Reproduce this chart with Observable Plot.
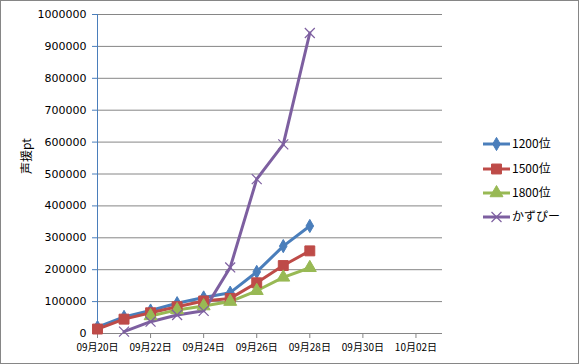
<!DOCTYPE html>
<html>
<head>
<meta charset="utf-8">
<script src="https://cdn.jsdelivr.net/npm/d3@7"></script>
<script src="https://cdn.jsdelivr.net/npm/@observablehq/plot@0.6"></script>
<style>
  html, body { margin: 0; padding: 0; background: #fff; }
  #wrap { position: relative; width: 579px; height: 364px; overflow: hidden; background: #fff; }
  #wrap svg.plot { position: absolute; left: 0; top: 0; }
  #border { position: absolute; left: 0; top: 0; width: 579px; height: 364px; box-sizing: border-box; border: 1px solid #868686; pointer-events: none; }
  #legend { position: absolute; left: 0; top: 0; }
</style>
</head>
<body>
<div id="wrap"></div>
<script>
// ---- data ----
const dates = ["2013-09-20","2013-09-21","2013-09-22","2013-09-23","2013-09-24","2013-09-25","2013-09-26","2013-09-27","2013-09-28"];
const series = ["1200位", "1500位", "1800位", "かずぴー"];
const s1200 = [20000, 52000, 72000, 95000, 113000, 128000, 193000, 274000, 337000];
const s1500 = [14000, 45000, 65000, 84000, 102000, 110000, 159000, 213000, 259000];
const s1800 = [null, null, 55000, 74000, 86000, 100000, 134000, 176000, 206000];
const sKazu = [null, 6000, 37000, 58000, 71000, 207000, 484000, 593000, 942000];
const tickDates = ["2013-09-20","2013-09-22","2013-09-24","2013-09-26","2013-09-28","2013-09-30","2013-10-02"];
const yTicks = [0,100000,200000,300000,400000,500000,600000,700000,800000,900000,1000000];
const xDomain = ["2013-09-20","2013-10-03"];
const yLabel = "声援pt";

// ---- styles ----
const colors = ["#4A7EBB", "#BE4B48", "#98B954", "#7D5FA0"];
const symbols = ["diamond", "square", "triangle", "times"];
const symSize = [4.0, 5.6, 4.8, 4.6];

const parse = d3.utcParse("%Y-%m-%d");
const allVals = [s1200, s1500, s1800, sKazu];
const rows = [];
series.forEach((s, i) => {
  allVals[i].forEach((v, j) => {
    if (v != null) rows.push({series: s, date: parse(dates[j]), value: v, idx: i});
  });
});
const fmt = d => `${String(d.getUTCMonth() + 1).padStart(2, "0")}月${String(d.getUTCDate()).padStart(2, "0")}日`;

const marks = [
  Plot.gridY(yTicks, {stroke: "#868686", strokeOpacity: 1, strokeWidth: 1}),
  Plot.axisY(yTicks, {tickSize: 5, tickPadding: 6, stroke: "#4A7EBB", label: null, tickFormat: d => String(d), fontFamily: "DejaVu Sans", fontSize: 11, fill: "#000"}),
  Plot.axisX(tickDates.map(parse), {tickSize: 5, tickPadding: 5, stroke: "#868686", label: null, tickFormat: fmt, fontFamily: "Noto Sans CJK JP", fontSize: 10, fill: "#000"}),
  Plot.ruleY([0], {stroke: "#868686", strokeWidth: 1}),
  Plot.ruleX([parse(xDomain[0])], {stroke: "#4A7EBB", strokeWidth: 1}),
  Plot.text([yLabel], {frameAnchor: "left", dx: -70, rotate: -90, fontFamily: "Noto Sans CJK JP", fontSize: 12, fill: "#000"})
];
series.forEach((s, i) => {
  const d = rows.filter(r => r.idx === i);
  marks.push(Plot.line(d, {x: "date", y: "value", stroke: colors[i], strokeWidth: 3, curve: "linear"}));
});
series.forEach((s, i) => {
  const d = rows.filter(r => r.idx === i);
  if (symbols[i] === "times") {
    marks.push(Plot.dot(d, {x: "date", y: "value", symbol: "times", r: symSize[i], stroke: colors[i], strokeWidth: 1.2, fill: "none"}));
  } else {
    marks.push(Plot.dot(d, {x: "date", y: "value", symbol: symbols[i], r: symSize[i], fill: colors[i], stroke: colors[i], strokeWidth: 1}));
  }
});

const chart = Plot.plot({
  width: 579,
  height: 364,
  marginLeft: 97,
  marginRight: 137,
  marginTop: 14,
  marginBottom: 31,
  style: {background: "transparent", color: "#000"},
  x: {type: "utc", domain: xDomain.map(parse)},
  y: {domain: [0, 1000000]},
  marks
});
chart.classList.add("plot");
const wrap = document.getElementById("wrap");
wrap.appendChild(chart);

// legend
const legendY = [144, 169, 193, 217];
const lg = d3.select(wrap).append("svg").attr("id", "legend").attr("width", 579).attr("height", 364);
series.forEach((s, i) => {
  const g = lg.append("g").attr("transform", `translate(0,${legendY[i]})`);
  g.append("line").attr("x1", 483).attr("x2", 510).attr("y1", 0).attr("y2", 0).attr("stroke", colors[i]).attr("stroke-width", 3);
  const symMap = {diamond: d3.symbolDiamond, square: d3.symbolSquare, triangle: d3.symbolTriangle, times: d3.symbolTimes};
  const r = symSize[i];
  const path = d3.symbol(symMap[symbols[i]], Math.PI * r * r)();
  const p = g.append("path").attr("d", path).attr("transform", "translate(496.5,0)");
  if (symbols[i] === "times") p.attr("fill", "none").attr("stroke", colors[i]).attr("stroke-width", 1.2);
  else p.attr("fill", colors[i]).attr("stroke", colors[i]);
  g.append("text").attr("x", 512).attr("y", 0).attr("dy", "0.36em").attr("font-family", "Noto Sans CJK JP").attr("font-size", 12).attr("fill", "#000").text(s);
});

const b = document.createElement("div");
b.id = "border";
wrap.appendChild(b);
</script>
</body>
</html>
